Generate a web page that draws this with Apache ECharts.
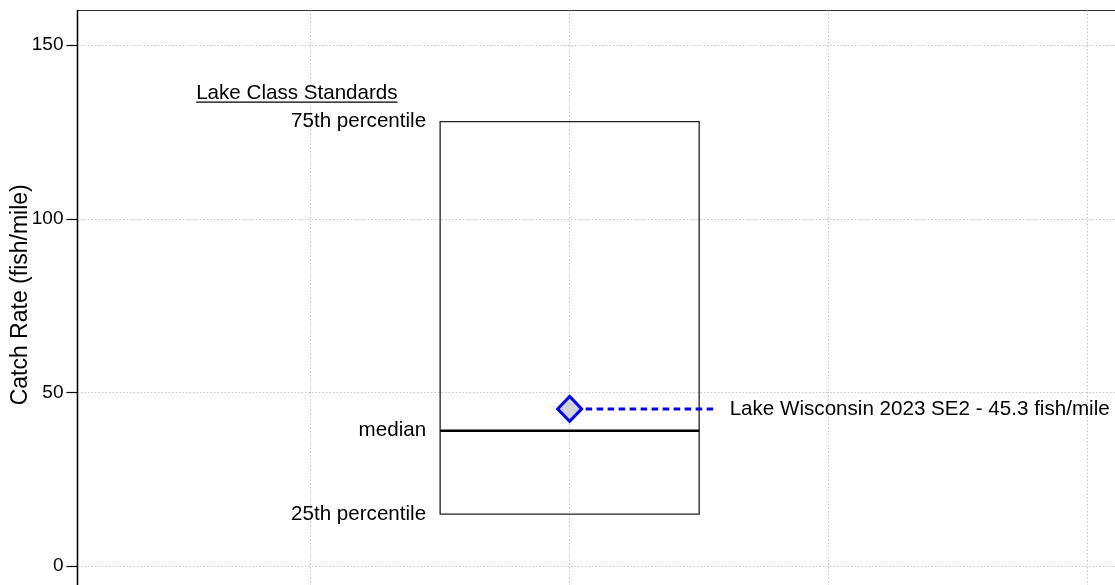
<!DOCTYPE html>
<html>
<head>
<meta charset="utf-8">
<script src="https://cdn.jsdelivr.net/npm/echarts@6/dist/echarts.min.js"></script>
<style>
  html, body { margin: 0; padding: 0; background: #fff; }
  #chart { width: 1115px; height: 585px; }
</style>
</head>
<body>
<div id="chart"></div>
<script>
// lake class standards box (x extent in axis units)
const boxX = [1.5, 2.5];
const boxStats = [15, 39, 128];            // 25th, median, 75th
const boxLabels = ['25th percentile', 'median', '75th percentile'];
const standardsTitle = 'Lake Class Standards';

// this survey
const lakeX = [2];
const lakeValue = [45.3];
const lakeName = 'Lake Wisconsin 2023 SE2';
const unit = 'fish/mile';

const yTicks = [0, 50, 100, 150];
const yName = 'Catch Rate (fish/mile)';

const FONT = '"Liberation Sans", Arial, sans-serif';
const FS = 20.6;

// width of the title text, for the underline
const ctx = document.createElement('canvas').getContext('2d');
ctx.font = FS + 'px "Liberation Sans"';
const titleW = ctx.measureText(standardsTitle).width;

const chart = echarts.init(document.getElementById('chart'));

const gridLine = { show: true, lineStyle: { color: '#c4c4c4', type: [1.5, 2], width: 1 } };

chart.setOption({
  animation: false,
  textStyle: { fontFamily: FONT },
  grid: {
    left: 77.5, top: 10.5, width: 1062, height: 576.6,
    outerBoundsMode: 'none', containLabel: false,
    show: true, borderColor: '#333', borderWidth: 1.2, backgroundColor: 'transparent'
  },
  xAxis: {
    type: 'value', min: 0.1, max: 4.2, minInterval: 1, maxInterval: 1,
    axisLine: { show: false }, axisTick: { show: false }, axisLabel: { show: false },
    splitLine: gridLine
  },
  yAxis: {
    type: 'value', min: -6, max: 160, minInterval: 50, maxInterval: 50,
    name: yName, nameLocation: 'middle', nameGap: 45, nameMoveOverlap: false,
    nameTextStyle: { fontSize: 23, color: '#000', fontFamily: FONT, padding: [0, 0, 0, 8] },
    axisLine: { show: true, lineStyle: { color: '#000', width: 1.4 } },
    axisTick: { show: true, length: 11, customValues: yTicks, lineStyle: { color: '#000', width: 1.2 } },
    axisLabel: { customValues: yTicks, margin: 14, fontSize: 19, color: '#000', fontFamily: FONT, padding: [6, 0, 0, 0] },
    splitLine: gridLine
  },
  series: [
    {
      type: 'custom',
      coordinateSystem: 'cartesian2d',
      data: [[boxX[0], boxX[1], boxStats[0], boxStats[1], boxStats[2]]],
      encode: { x: [0, 1], y: [2, 3, 4] },
      renderItem: function (params, api) {
        const p25 = api.coord([api.value(0), api.value(2)]);
        const pMed = api.coord([api.value(0), api.value(3)]);
        const p75 = api.coord([api.value(0), api.value(4)]);
        const right = api.coord([api.value(1), api.value(3)])[0];
        const left = p25[0];
        const txt = (x, y, s, align) => ({
          type: 'text', silent: true,
          style: { x: x, y: y, text: s, fill: '#000', font: FS + 'px ' + FONT, align: align, verticalAlign: 'middle' }
        });
        return {
          type: 'group',
          children: [
            { type: 'rect', shape: { x: left, y: p75[1], width: right - left, height: p25[1] - p75[1] },
              style: { fill: 'none', stroke: '#222', lineWidth: 1.3 } },
            { type: 'line', shape: { x1: left, y1: pMed[1], x2: right, y2: pMed[1] },
              style: { stroke: '#000', lineWidth: 2.6 } },
            txt(left - 14, p75[1], boxLabels[2], 'right'),
            txt(left - 14, pMed[1], boxLabels[1], 'right'),
            txt(left - 14, p25[1], boxLabels[0], 'right'),
            txt(left - 244, p75[1] - 28, standardsTitle, 'left'),
            { type: 'line', shape: { x1: left - 244, y1: p75[1] - 19.5, x2: left - 244 + titleW, y2: p75[1] - 19.5 },
              style: { stroke: '#000', lineWidth: 1.2 } }
          ]
        };
      },
      z: 2
    },
    {
      type: 'custom',
      coordinateSystem: 'cartesian2d',
      data: [[lakeX[0], lakeValue[0]]],
      renderItem: function (params, api) {
        const p = api.coord([api.value(0), api.value(1)]);
        return {
          type: 'group',
          children: [
            { type: 'line', shape: { x1: p[0] + 16, y1: p[1], x2: p[0] + 148, y2: p[1] },
              style: { stroke: '#0000ff', lineWidth: 3, lineDash: [6.5, 4.5] } },
            { type: 'text', style: {
                x: p[0] + 160, y: p[1], fill: '#000', font: FS + 'px ' + FONT,
                text: lakeName + ' - ' + api.value(1) + ' ' + unit,
                align: 'left', verticalAlign: 'middle' } }
          ]
        };
      },
      z: 3
    },
    {
      type: 'scatter',
      data: [[lakeX[0], lakeValue[0]]],
      symbol: 'diamond',
      symbolSize: [24, 25],
      itemStyle: { color: '#d3d3d3', borderColor: '#0000ff', borderWidth: 3, opacity: 1 },
      z: 4
    }
  ]
});
</script>
</body>
</html>
